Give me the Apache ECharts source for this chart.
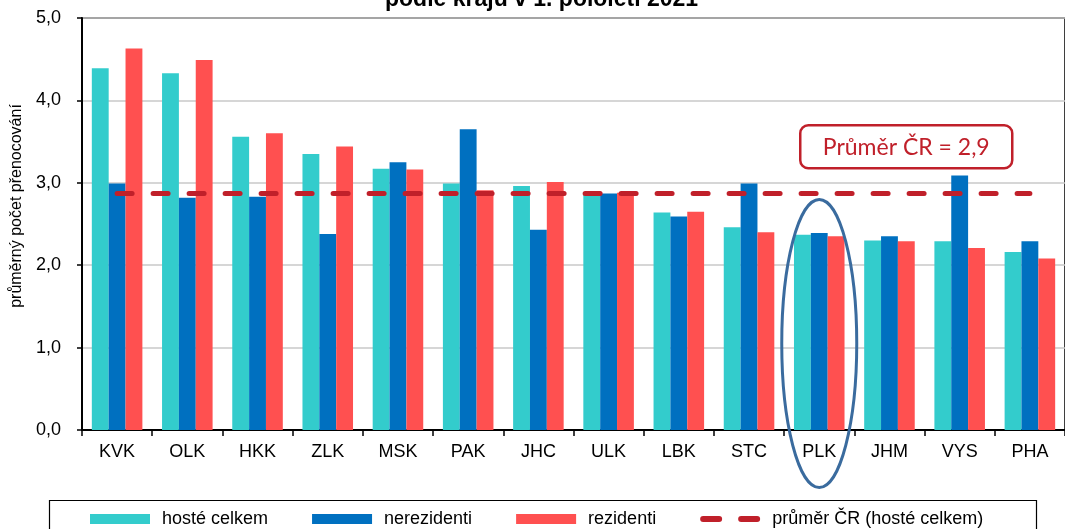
<!DOCTYPE html>
<html>
<head>
<meta charset="utf-8">
<script src="https://cdn.jsdelivr.net/npm/echarts@6/dist/echarts.min.js"></script>
<style>
html,body{margin:0;padding:0;background:#fff;}
#chart{width:1065px;height:529px;}
</style>
</head>
<body>
<div id="chart"></div>
<script>
const categories = ['KVK','OLK','HKK','ZLK','MSK','PAK','JHC','ULK','LBK','STC','PLK','JHM','VYS','PHA'];
const hosteCelkem = [4.39,4.33,3.56,3.35,3.17,2.99,2.96,2.88,2.64,2.46,2.37,2.30,2.29,2.16];
const nerezidenti = [2.99,2.82,2.83,2.38,3.25,3.65,2.43,2.87,2.59,2.99,2.39,2.35,3.09,2.29];
const rezidenti   = [4.63,4.49,3.60,3.44,3.16,2.91,3.01,2.88,2.65,2.40,2.35,2.29,2.21,2.08];
const prumerCR    = [2.87,2.87,2.87,2.87,2.87,2.87,2.87,2.87,2.87,2.87,2.87,2.87,2.87,2.87];
const yTicks = [0,1,2,3,4,5];

const FONT = '"Liberation Sans", Arial, sans-serif';
const dashIcon = 'path://M3,0 H19 A3,3 0 0 1 19,6 H3 A3,3 0 0 1 3,0 Z M41,0 H57 A3,3 0 0 1 57,6 H41 A3,3 0 0 1 41,0 Z';
const chart = echarts.init(document.getElementById('chart'), null, {renderer:'canvas'});
const option = {
  animation:false,
  backgroundColor:'#fff',
  textStyle:{fontFamily:FONT},
  title:{
    text:'podle krajů v 1. pololetí 2021',
    left:380, top:-17,
    textStyle:{fontFamily:FONT, fontSize:23, fontWeight:'bold', color:'#000'}
  },
  grid:{left:82, top:18, width:989, height:412, show:true, borderColor:'#000', borderWidth:1.5, backgroundColor:'transparent'},
  legend:{
    left:85, top:505,
    itemWidth:60, itemHeight:10, itemGap:44,
    textStyle:{fontFamily:FONT, fontSize:18, color:'#000', padding:[0,0,0,7]},
    data:[
      {name:'hosté celkem', icon:'rect'},
      {name:'nerezidenti', icon:'rect'},
      {name:'rezidenti', icon:'rect'},
      {name:'průměr ČR (hosté celkem)', icon:dashIcon}
    ]
  },
  xAxis:{
    type:'category', data:categories,
    axisLine:{lineStyle:{color:'#000', width:2}},
    axisTick:{show:true, length:6, lineStyle:{color:'#000', width:1.5}},
    axisLabel:{fontFamily:FONT, fontSize:18, color:'#000', margin:13},
    splitLine:{show:false}
  },
  yAxis:{
    type:'value', min:yTicks[0], max:yTicks[yTicks.length-1], interval:1,
    name:'průměrný počet přenocování', nameLocation:'middle', nameGap:56,
    nameTextStyle:{fontFamily:FONT, fontSize:16, color:'#000', padding:[0,0,0,36]},
    axisLine:{show:true, lineStyle:{color:'#000', width:2}},
    axisTick:{show:true, length:5, lineStyle:{color:'#000', width:1.5}},
    axisLabel:{fontFamily:FONT, fontSize:18, color:'#000', margin:21,
      formatter:v=>v.toFixed(1).replace('.',',')},
    splitLine:{lineStyle:{color:'#c8c8c8', width:1.5}}
  },
  series:[
    {name:'hosté celkem', type:'bar', data:hosteCelkem, barGap:'0%', barCategoryGap:'28%', itemStyle:{color:'#33CCCC'}},
    {name:'nerezidenti', type:'bar', data:nerezidenti, barGap:'0%', barCategoryGap:'28%', itemStyle:{color:'#0070C0'}},
    {name:'rezidenti', type:'bar', data:rezidenti, barGap:'0%', barCategoryGap:'28%', itemStyle:{color:'#FF5050'}},
    {name:'průměr ČR (hosté celkem)', type:'line', data:prumerCR, symbol:'none', z:5,
      lineStyle:{color:'#C0202A', width:5, type:[15,21], cap:'round'}, itemStyle:{color:'#C0202A'}}
  ]
};
chart.setOption(option);

const plk = chart.convertToPixel({xAxisIndex:0, yAxisIndex:0}, ['PLK', 1.05]);
chart.setOption({
  graphic:[
    {type:'rect', left:47, top:498, shape:{width:987, height:45}, style:{fill:'none', stroke:'#000', lineWidth:1.2}, z:-1, silent:true},
    {type:'ellipse', shape:{cx:plk[0], cy:plk[1], rx:37.5, ry:144}, style:{fill:'none', stroke:'#3A6B9E', lineWidth:3}, z:10, silent:true},
    {type:'group', left:799, top:124, z:10, children:[
      {type:'rect', shape:{x:0, y:0, width:212, height:43, r:8}, style:{fill:'#fff', stroke:'#C0202A', lineWidth:2.5}},
      {type:'text', x:106, y:22, style:{text:'Průměr ČR = 2,9', fill:'#C0202A', font:'23px Lato, "Open Sans", sans-serif', align:'center', verticalAlign:'middle'}}
    ]}
  ]
});
</script>
</body>
</html>
